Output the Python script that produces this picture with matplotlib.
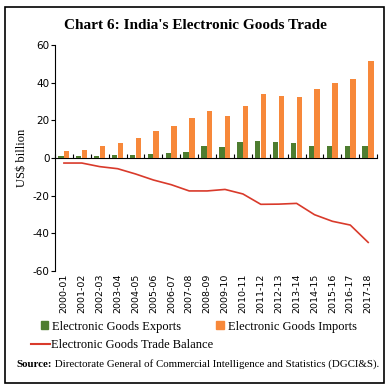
import numpy as np
import matplotlib
matplotlib.use("Agg")
import matplotlib.pyplot as plt
from matplotlib.patches import Rectangle, Patch
from matplotlib.lines import Line2D

plt.rcParams['axes.unicode_minus'] = False

# ----- Data (US$ billion) -----
years = ['2000-01', '2001-02', '2002-03', '2003-04', '2004-05', '2005-06',
         '2006-07', '2007-08', '2008-09', '2009-10', '2010-11', '2011-12',
         '2012-13', '2013-14', '2014-15', '2015-16', '2016-17', '2017-18']
exports = [1.0, 1.0, 1.0, 1.5, 1.8, 2.0, 2.7, 3.0, 6.5, 5.6, 8.3, 9.2,
           8.3, 7.8, 6.4, 6.4, 6.4, 6.4]
imports = [3.9, 4.4, 6.4, 7.8, 10.8, 14.3, 16.8, 21.2, 24.8, 22.3, 27.8, 34.0,
           32.7, 32.2, 36.8, 39.8, 41.8, 51.5]
balance = [-2.7, -2.7, -4.6, -5.7, -8.5, -11.7, -14.2, -17.5, -17.5, -16.7,
           -19.1, -24.6, -24.5, -24.1, -30.1, -33.6, -35.6, -44.8]

green = '#4e7d30'
orange = '#f7883a'
red = '#d93a2b'
serif = 'Liberation Serif'

# ----- Figure -----
fig = plt.figure(figsize=(3.9, 3.9), dpi=100)
fig.patches.append(Rectangle((5 / 390, 7 / 390), 379 / 390, 376 / 390,
                             transform=fig.transFigure, fill=False,
                             edgecolor='black', linewidth=1.2))

fig.text(0.5, 0.935, "Chart 6: India's Electronic Goods Trade", ha='center',
         va='center', fontsize=11, fontweight='bold', family=serif)

ax = fig.add_axes([0.141, 0.305, 0.826, 0.58])
x = np.arange(len(years))
w = 0.3
ax.bar(x - 0.17, exports, width=w, color=green)
ax.bar(x + 0.15, imports, width=w, color=orange)
ax.plot(x, balance, color=red, linewidth=1.2)

ax.set_xlim(-0.5, len(years) - 0.5)
ax.set_ylim(-60, 60)
ax.set_yticks(np.arange(-60, 61, 20))
ax.tick_params(axis='y', labelsize=7.5, length=3, width=0.8, pad=1)
ax.set_xticks(x)
ax.set_xticklabels(years, rotation=90, fontsize=6.8)
ax.tick_params(axis='x', length=0, pad=2)
for side in ['top', 'right', 'bottom']:
    ax.spines[side].set_visible(False)
ax.spines['left'].set_linewidth(0.8)
ax.set_ylabel('US$ billion', fontsize=9, family=serif, labelpad=3)

# zero line with category boundary ticks
sec = ax.secondary_xaxis(0.5)
sec.set_xticks(np.arange(-0.5, len(years), 1.0))
sec.set_xticklabels([])
sec.tick_params(length=3, width=0.8)
sec.spines['bottom'].set_linewidth(0.8)

# ----- Legend -----
prop = {'family': serif, 'size': 9}
fig.legend([Patch(color=green), Patch(color=orange)],
           ['Electronic Goods Exports', 'Electronic Goods Imports'],
           loc='center left', bbox_to_anchor=(0.105, 0.162), ncol=2,
           frameon=False, prop=prop, handlelength=0.6, handleheight=0.6,
           handletextpad=0.3, columnspacing=2.8, borderaxespad=0, borderpad=0)
fig.legend([Line2D([0], [0], color=red, linewidth=1.5)],
           ['Electronic Goods Trade Balance'],
           loc='center left', bbox_to_anchor=(0.08, 0.115),
           frameon=False, prop=prop, handlelength=1.5,
           handletextpad=0.1, borderaxespad=0, borderpad=0)

src = fig.text(0.043, 0.059, 'Source:', fontsize=7.8, family=serif,
               fontweight='bold', va='baseline')
ax.annotate(' Directorate General of Commercial Intelligence and Statistics (DGCI&S).',
            xy=(1, 0), xycoords=src, va='bottom', ha='left',
            fontsize=7.8, family=serif, annotation_clip=False)

fig.savefig('out.png', dpi=100)
